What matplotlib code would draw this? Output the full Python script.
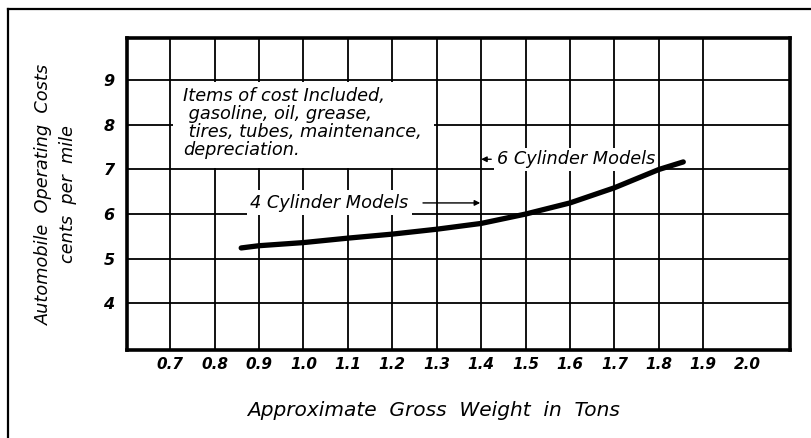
import matplotlib
matplotlib.use('Agg')
import matplotlib.pyplot as plt
from matplotlib.patches import Rectangle
from matplotlib.lines import Line2D

# values
weight_tons = [0.86, 0.9, 1.0, 1.1, 1.2, 1.3, 1.4, 1.5, 1.6, 1.7, 1.8, 1.855]
cost_cents = [5.24, 5.29, 5.36, 5.46, 5.55, 5.66, 5.79, 6.0, 6.25, 6.59, 7.0, 7.17]
x_ticks = [0.7, 0.8, 0.9, 1.0, 1.1, 1.2, 1.3, 1.4, 1.5, 1.6, 1.7, 1.8, 1.9, 2.0]
x_labels = ['0.7', '0.8', '0.9', '1.0', '1.1', '1.2', '1.3', '1.4', '1.5', '1.6', '1.7', '1.8', '1.9', '2.0']
x_grid = [0.7, 0.8, 0.9, 1.0, 1.1, 1.2, 1.3, 1.4, 1.5, 1.6, 1.7, 1.8, 1.9]
y_ticks = [4, 5, 6, 7, 8, 9]
y_grid = [4, 5, 6, 7, 8, 9]

note = ('Items of cost Included,\n gasoline, oil, grease,\n tires, tubes, maintenance,\n'
        'depreciation.')

plt.rcParams['font.family'] = ['DejaVu Sans']

fig = plt.figure(figsize=(8.11, 4.38), dpi=100)
ax = fig.add_axes([0.1566, 0.2009, 0.8174, 0.7123])
ax.set_xlim(0.603, 2.095)
ax.set_ylim(2.95, 9.95)

for xv in x_grid:
    ax.axvline(xv, color='black', lw=1.3, zorder=1)
for yv in y_grid:
    ax.axhline(yv, color='black', lw=1.3, zorder=1)

# white box behind the note
ax.add_patch(Rectangle((0.706, 7.03), 0.588, 1.94, facecolor='white', edgecolor='none', zorder=2))
ax.text(0.729, 8.84, note, fontsize=12.8, style='italic', va='top', ha='left',
        linespacing=1.0, zorder=3)

ax.plot(weight_tons, cost_cents, color='black', lw=3.8, solid_capstyle='round', zorder=4)

ax.annotate('4 Cylinder Models', xy=(1.398, 6.25), xytext=(0.88, 6.25),
            fontsize=12.8, style='italic', va='center', ha='left', zorder=3,
            bbox=dict(boxstyle='square,pad=0.2', facecolor='white', edgecolor='none'),
            arrowprops=dict(arrowstyle='-|>', color='black', lw=1.0, mutation_scale=8,
                            shrinkA=8, shrinkB=0))
ax.annotate('6 Cylinder Models', xy=(1.4, 7.23), xytext=(1.435, 7.23),
            fontsize=12.8, style='italic', va='center', ha='left', zorder=3,
            bbox=dict(boxstyle='square,pad=0.15', facecolor='white', edgecolor='none'),
            arrowprops=dict(arrowstyle='-|>', color='black', lw=1.0, mutation_scale=8,
                            shrinkA=2, shrinkB=0))

ax.set_xticks(x_ticks)
ax.set_xticklabels(x_labels, fontsize=11, style='italic', fontweight='bold')
ax.set_yticks(y_ticks)
ax.set_yticklabels([str(v) for v in y_ticks], fontsize=11.5, style='italic', fontweight='bold')
ax.tick_params(axis='x', length=0, pad=5)
ax.tick_params(axis='y', length=0, pad=9)
for s in ax.spines.values():
    s.set_linewidth(2.6)
    s.set_zorder(5)

ax.set_xlabel('Approximate  Gross  Weight  in  Tons', fontsize=14.5, style='italic', labelpad=18)
ax.xaxis.set_label_coords(0.463, -0.165)
ax.set_ylabel('Automobile  Operating  Costs\ncents  per  mile', fontsize=12.8, style='italic',
              linespacing=1.45, labelpad=19)

# outer frame of the scanned page
fig.add_artist(Line2D([0.0099, 0.0099], [0.0, 0.979], color='black', lw=1.6))
fig.add_artist(Line2D([0.0099, 1.0], [0.979, 0.979], color='black', lw=1.6))

fig.savefig('out.png', dpi=100)
